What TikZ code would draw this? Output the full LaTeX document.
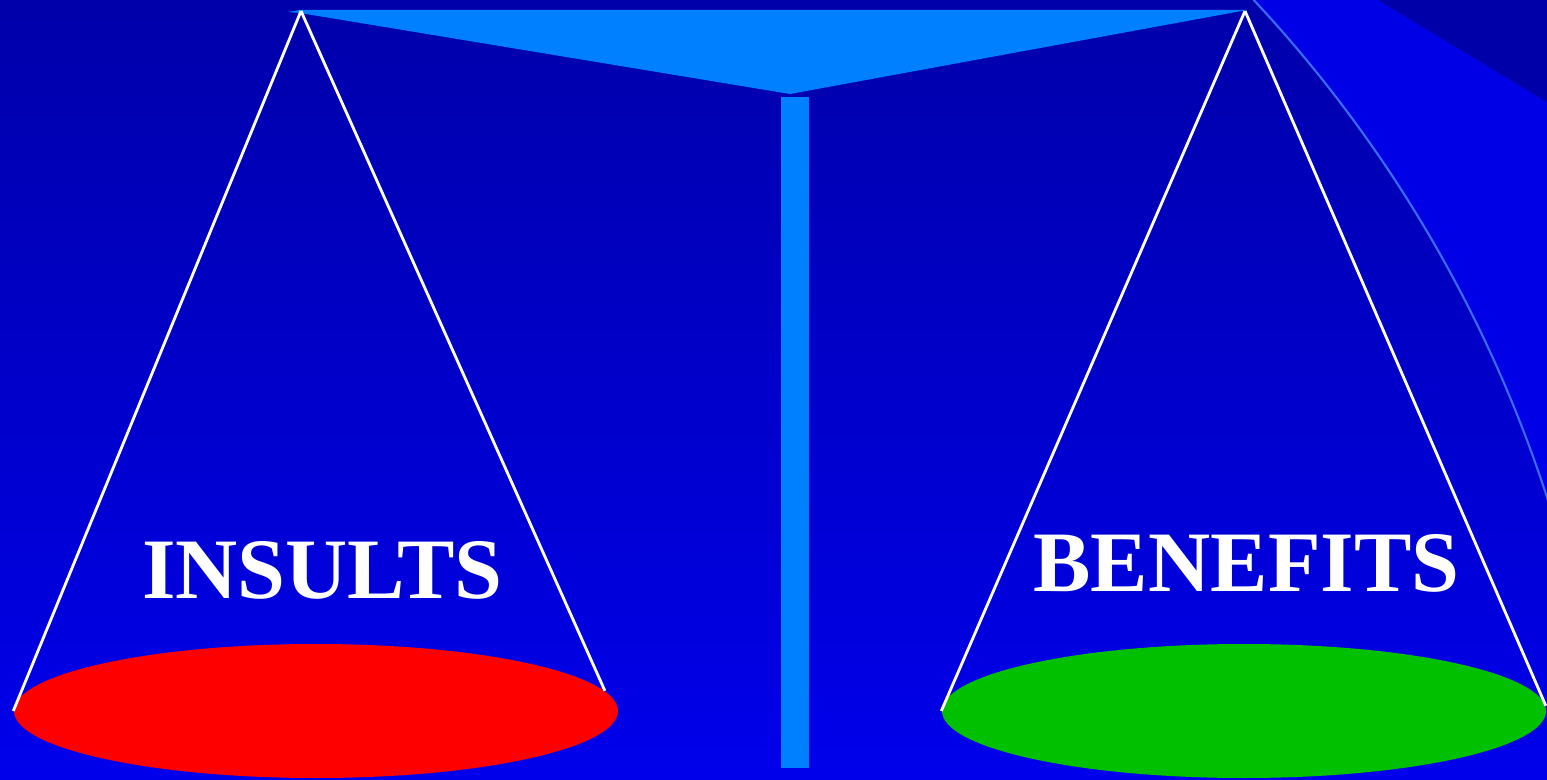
\documentclass[tikz,border=0pt]{standalone}
\usepackage{fontspec}
\setmainfont{Liberation Serif}
\usepackage{tikz}
\usetikzlibrary{shapes.geometric}

\definecolor{beamblue}{RGB}{0,128,255}
\definecolor{arcblue}{RGB}{58,107,255}
\definecolor{skytop}{RGB}{0,0,170}
\definecolor{skybottom}{RGB}{0,0,235}
\definecolor{brightblue}{RGB}{0,0,230}
\definecolor{cornerblue}{RGB}{0,0,168}
\definecolor{pangreen}{RGB}{0,192,0}

\begin{document}
\begin{tikzpicture}[
    pan/.style={ellipse, inner sep=0pt, minimum width=6.04cm, minimum height=1.34cm},
    cord/.style={white, line width=0.8pt},
    word/.style={text=white, inner sep=0pt, anchor=base,
      font=\fontsize{24.5}{28}\selectfont\bfseries}]
    \useasboundingbox (0,0) rectangle (15.47,7.79);
    % background
    \shade[top color=skytop, bottom color=skybottom] (0,0) rectangle (15.47,7.79);
    \fill[brightblue] (12.537,7.79) arc[start angle=43.05, end angle=17.9, radius=13.32]
      -- (15.47,7.79) -- cycle;
    \fill[cornerblue] (13.78,7.79) -- (15.47,7.79) -- (15.47,6.77) -- cycle;
    \draw[arcblue, line width=0.6pt] (12.537,7.79) arc[start angle=43.05, end angle=17.9, radius=13.32];

    % beam and post
    \fill[beamblue] (2.88,7.67) -- (3.00,7.69) -- (12.47,7.69) -- (7.90,6.85)
      -- (3.00,7.66) -- cycle;
    \fill[beamblue] (7.81,0.11) rectangle (8.09,6.82);

    % pans
    \coordinate (ltop) at (3.01,7.68);
    \coordinate (rtop) at (12.45,7.68);
    \node[pan, fill=red] (lpan) at (3.16,0.68) {};
    \node[pan, fill=pangreen] (rpan) at (12.44,0.68) {};
    \draw[cord] (ltop) -- (lpan.west);
    \draw[cord] (ltop) -- (lpan.4);
    \draw[cord] (rtop) -- (rpan.west);
    \draw[cord] (rtop) -- (rpan.1);

    % labels
    \node[word] (insults) at (3.225,1.81) {INSULTS};
    \node[word] (benefits) at (12.465,1.88) {BENEFITS};
  \end{tikzpicture}
\end{document}
